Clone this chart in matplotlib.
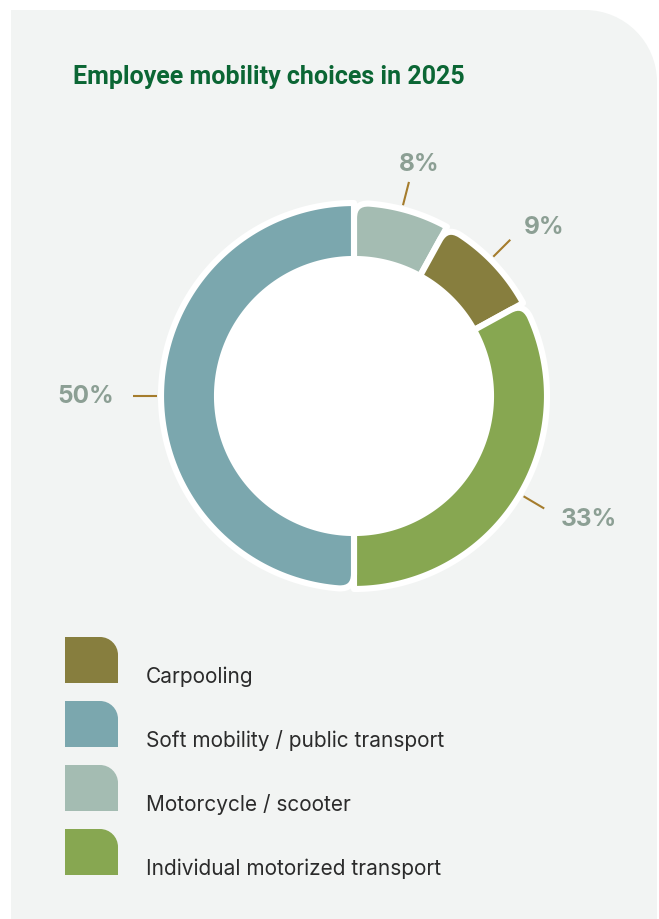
import numpy as np
import matplotlib
matplotlib.use("Agg")
import matplotlib.pyplot as plt
from matplotlib.path import Path
from matplotlib.patches import PathPatch, Circle

# ---- data ----
title = "Employee mobility choices in 2025"
seg_labels = ["Motorcycle / scooter", "Carpooling", "Individual motorized transport", "Soft mobility / public transport"]
seg_values = [8, 9, 33, 50]
seg_colors = ["#a4bcb2", "#877e3e", "#87a751", "#7ba7ae"]
legend_labels = ["Carpooling", "Soft mobility / public transport", "Motorcycle / scooter", "Individual motorized transport"]
legend_colors = ["#877e3e", "#7ba7ae", "#a4bcb2", "#87a751"]

BG = "#f2f4f3"
LEADER = "#a57c2c"
PCT = "#8c9f94"
TITLE_C = "#0b6634"

W, H = 659, 920
fig = plt.figure(figsize=(W / 100, H / 100), dpi=100)
fig.patch.set_facecolor("white")

# background / layout axes in pixel units
bg = fig.add_axes([0, 0, 1, 1])
bg.set_xlim(0, W)
bg.set_ylim(H, 0)
bg.axis("off")

def rounded_tr_rect(x0, y0, x1, y1, rc):
    # y axis inverted (y0 top, y1 bottom); rounded top-right corner
    k = 0.5523
    verts = [(x0, y1), (x0, y0), (x1 - rc, y0),
             (x1 - rc + k * rc, y0), (x1, y0 + rc - k * rc), (x1, y0 + rc),
             (x1, y1), (x0, y1)]
    codes = [Path.MOVETO, Path.LINETO, Path.LINETO,
             Path.CURVE4, Path.CURVE4, Path.CURVE4,
             Path.LINETO, Path.CLOSEPOLY]
    return Path(verts, codes)

bg.add_patch(PathPatch(rounded_tr_rect(11, 11, 657, H + 5, 72), facecolor=BG, edgecolor="none"))

bg.text(73, 77, title, fontsize=18.0, fontweight="bold", color=TITLE_C,
        family=["Roboto", "DejaVu Sans"], ha="left", va="center")

# legend
sw_x, sw_w, sw_h = 65, 53, 46
for i, (lab, col) in enumerate(zip(legend_labels, legend_colors)):
    top = 638 + 64 * i
    bg.add_patch(PathPatch(rounded_tr_rect(sw_x, top, sw_x + sw_w, top + sw_h, 18),
                           facecolor=col, edgecolor="none"))
    bg.text(146, top + sw_h - 0.5, lab, fontsize=15.0, color="#2b2b2b",
            family=["Inter", "DejaVu Sans"], ha="left", va="baseline")

# donut axes
cx, cy, scale = 354, 397, 200.0
half = 1.1 * scale
ax = fig.add_axes([(cx - half) / W, (H - cy - half) / H, 2 * half / W, 2 * half / H])
ax.set_xlim(-1.1, 1.1)
ax.set_ylim(-1.1, 1.1)
ax.set_aspect("equal")
ax.axis("off")

R_out, R_in, corner = 193 / scale, 137 / scale, 15 / scale

def pt(r, a):
    t = np.deg2rad(a)
    return (r * np.sin(t), r * np.cos(t))

def segment_path(a0, a1):
    d = np.rad2deg(corner / R_out)
    verts = [pt(R_in, a0), pt(R_out - corner, a0), pt(R_out, a0), pt(R_out, a0 + d)]
    codes = [Path.MOVETO, Path.LINETO, Path.CURVE3, Path.CURVE3]
    for a in np.linspace(a0 + d, a1, 120)[1:]:
        verts.append(pt(R_out, a)); codes.append(Path.LINETO)
    verts.append(pt(R_in, a1)); codes.append(Path.LINETO)
    for a in np.linspace(a1, a0, 120)[1:]:
        verts.append(pt(R_in, a)); codes.append(Path.LINETO)
    verts.append(pt(R_in, a0)); codes.append(Path.CLOSEPOLY)
    return Path(verts, codes)

total = float(sum(seg_values))
start = 0.0
for val, col in zip(seg_values, seg_colors):
    span = 360.0 * val / total
    ax.add_patch(PathPatch(segment_path(start, start + span), facecolor=col,
                           edgecolor="white", linewidth=4.4, joinstyle="round"))
    mid = start + span / 2
    p0, p1 = pt(0.985, mid), pt(1.105, mid)
    ax.plot([p0[0], p1[0]], [p0[1], p1[1]], color=LEADER, lw=1.5, clip_on=False,
            solid_capstyle="butt")
    s = np.sin(np.deg2rad(mid))
    ha = "left" if s > 0.3 else ("right" if s < -0.3 else "center")
    tp = pt(1.2, mid)
    if ha == "center":
        tp = (tp[0] + 0.03, tp[1])
    ax.text(tp[0], tp[1], f"{val}%", fontsize=17.5, fontweight="bold", color=PCT,
            family=["Inter", "DejaVu Sans"], ha=ha, va="center")
    start += span

# white hole
ax.add_patch(Circle((0, 0), R_in - 0.005, facecolor="white", edgecolor="none", zorder=0.5))

fig.savefig("out.png", dpi=100, facecolor=fig.get_facecolor())
